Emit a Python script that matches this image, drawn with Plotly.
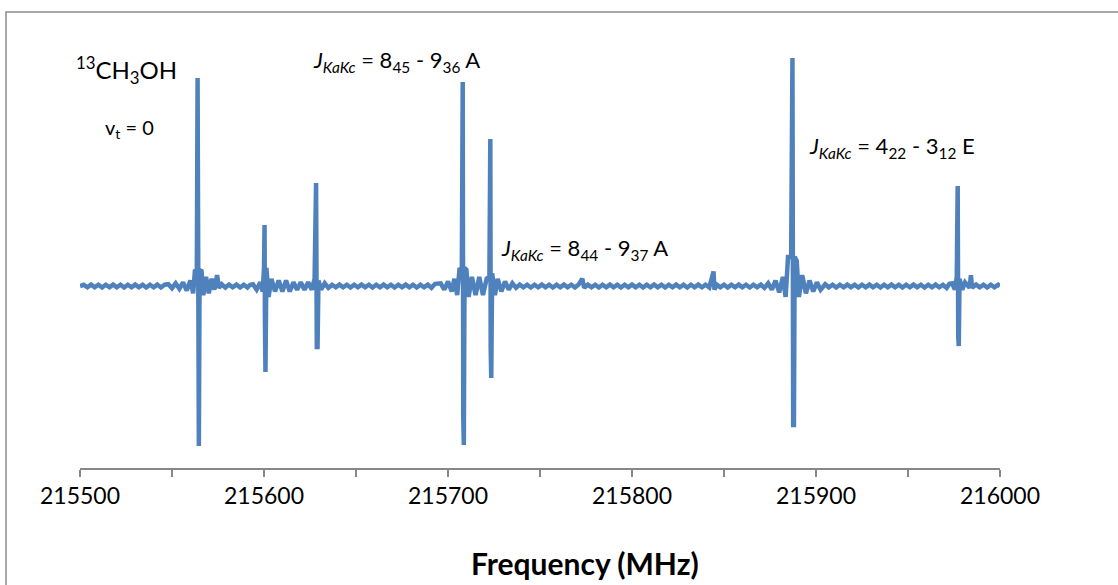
import plotly.graph_objects as go

# Spectrum points: frequency (MHz) and relative intensity
freq = [
    # baseline ripple 215500-215548
    215500, 215502, 215504, 215506, 215508, 215510, 215512, 215514, 215516, 215518,
    215520, 215522, 215524, 215526, 215528, 215530, 215532, 215534, 215536, 215538,
    215540, 215542, 215544, 215546,
    # line near 215564
    215548, 215550, 215552, 215554, 215556, 215558, 215560,
    215561.5, 215562.5, 215563.5, 215563.9, 215564.2, 215564.6, 215565.0, 215566.0, 215567.0, 215568.5,
    215570, 215571.5, 215573, 215574.5, 215575.5, 215577, 215579,
    215581, 215583, 215585, 215587, 215589, 215591, 215592.5,
    # line near 215600
    215594, 215596, 215598, 215599.3, 215600.0, 215600.3, 215600.5, 215600.8, 215601.3, 215602.5, 215604,
    215606, 215608, 215610, 215612, 215614, 215616, 215618, 215620, 215622, 215624,
    # line near 215628
    215626, 215627.5, 215628.3, 215628.7, 215629.1, 215629.6, 215631, 215633, 215635,
    # baseline ripple 215637-215689
    215637, 215639, 215641, 215643, 215645, 215647, 215649, 215651, 215653, 215655,
    215657, 215659, 215661, 215663, 215665, 215667, 215669, 215671, 215673, 215675,
    215677, 215679, 215681, 215683, 215685, 215687, 215689,
    # lines near 215708 and 215723
    215691, 215693, 215696, 215698, 215700, 215702, 215703.5, 215705,
    215706.3, 215707.5, 215708.0, 215708.3, 215708.6, 215709.0, 215710.0, 215711.2, 215713, 215715,
    215717, 215719, 215721, 215722.5, 215723.0, 215723.2, 215723.5, 215724.0, 215725.5, 215727,
    215729, 215731, 215733, 215735, 215737,
    # baseline ripple with small feature near 215773
    215739, 215741, 215743, 215745, 215747, 215749, 215751, 215753, 215755, 215757,
    215759, 215761, 215763, 215765, 215767, 215769, 215771, 215773, 215774, 215776,
    215778, 215780, 215782, 215784, 215786, 215788, 215790, 215792, 215794, 215796,
    215798, 215800, 215802, 215804, 215806, 215808, 215810, 215812, 215814, 215816,
    215818, 215820, 215822, 215824, 215826, 215828, 215830, 215832, 215834, 215836,
    215838, 215840, 215842,
    # small feature near 215844
    215844.3, 215844.8, 215846, 215848, 215850, 215852, 215854, 215856, 215858, 215860,
    215862, 215864, 215866, 215868, 215870, 215872,
    # line near 215887
    215874, 215876, 215878, 215880,
    215882, 215883.5, 215884.8, 215886.5, 215887.2, 215887.6, 215888.0, 215888.4, 215889.5, 215890.7,
    215892.5, 215894.5, 215896.5, 215898.5, 215900.5, 215902.5,
    # baseline ripple 215905-215969
    215905, 215907, 215909, 215911, 215913, 215915, 215917, 215919, 215921, 215923,
    215925, 215927, 215929, 215931, 215933, 215935, 215937, 215939, 215941, 215943,
    215945, 215947, 215949, 215951, 215953, 215955, 215957, 215959, 215961, 215963,
    215965, 215967, 215969,
    # line near 215977
    215971, 215972.5, 215974, 215975.5, 215976.5, 215977.0, 215977.3, 215977.6, 215978.0, 215979.5, 215981,
    215983.5, 215984.2, 215984.8, 215987, 215989, 215991, 215993, 215995, 215997, 215999, 216000,
]
intensity = [
    0.000, 0.007, -0.007, 0.008, -0.007, 0.007, -0.008, 0.007, -0.007, 0.008,
    -0.007, 0.007, -0.008, 0.007, -0.007, 0.008, -0.007, 0.007, -0.008, 0.007,
    -0.007, 0.008, -0.008, 0.007,
    0.010, -0.012, 0.015, -0.015, 0.020, -0.025, 0.030,
    -0.040, 0.090, 0.080, 1.143, -0.879, -0.879, 0.080, 0.090, -0.050, 0.050,
    -0.040, 0.040, -0.020, 0.060, -0.010, 0.010, -0.008,
    0.008, -0.007, 0.008, -0.008, 0.007, -0.008, 0.007,
    0.010, -0.020, 0.020, -0.030, 0.100, 0.335, -0.170, -0.473, 0.100, -0.060, 0.040,
    -0.030, 0.030, -0.030, 0.030, -0.030, 0.020, -0.020, 0.020, -0.020, 0.020,
    -0.020, 0.040, 0.566, -0.335, -0.335, 0.030, -0.020, 0.015, -0.010,
    0.007, -0.007, 0.008, -0.007, 0.007, -0.008, 0.007, -0.007, 0.008, -0.007,
    0.007, -0.008, 0.007, -0.007, 0.008, -0.007, 0.007, -0.008, 0.007, -0.007,
    0.008, -0.007, 0.007, -0.008, 0.007, -0.007, 0.008,
    -0.010, 0.012, 0.015, -0.020, 0.025, -0.030, 0.040, -0.050,
    0.100, 0.080, 1.121, -0.725, -0.874, 0.100, 0.090, -0.060, 0.050, -0.050,
    0.050, -0.050, 0.040, 0.050, 0.808, -0.340, -0.505, 0.070, -0.050, 0.040,
    -0.030, 0.025, -0.020, 0.015, -0.010,
    0.008, -0.007, 0.007, -0.008, 0.007, -0.007, 0.008, -0.007, 0.007, -0.008,
    0.007, -0.007, 0.008, -0.007, 0.007, -0.008, 0.008, 0.040, -0.010, 0.008,
    -0.007, 0.007, -0.008, 0.007, -0.007, 0.008, -0.007, 0.007, -0.008, 0.007,
    -0.007, 0.008, -0.007, 0.007, -0.008, 0.007, -0.007, 0.008, -0.007, 0.007,
    -0.008, 0.007, -0.007, 0.008, -0.007, 0.007, -0.008, 0.007, -0.007, 0.008,
    -0.007, 0.007, -0.008,
    0.080, -0.020, 0.008, -0.007, 0.007, -0.008, 0.007, -0.007, 0.008, -0.007,
    0.007, -0.008, 0.007, -0.007, 0.008, -0.010,
    0.015, -0.020, 0.030, -0.035,
    0.050, -0.060, 0.160, 0.160, 1.253, -0.764, -0.764, 0.160, 0.140, -0.060,
    0.060, -0.040, 0.030, -0.030, 0.020, -0.020,
    0.010, -0.007, 0.007, -0.008, 0.007, -0.007, 0.008, -0.007, 0.007, -0.008,
    0.007, -0.007, 0.008, -0.007, 0.007, -0.008, 0.007, -0.007, 0.008, -0.007,
    0.007, -0.008, 0.007, -0.007, 0.008, -0.007, 0.007, -0.008, 0.007, -0.007,
    0.008, -0.007, 0.007,
    -0.010, 0.012, 0.015, -0.020, 0.050, 0.549, -0.280, -0.330, 0.040, -0.020, 0.020,
    -0.010, 0.060, -0.010, 0.008, -0.007, 0.007, -0.008, 0.007, -0.007, 0.007, 0.000,
]

tick_vals = [215500, 215600, 215700, 215800, 215900, 216000]
tick_text = ["215500", "215600", "215700", "215800", "215900", "216000"]
minor_tick_vals = [215550, 215650, 215750, 215850, 215950]

FONT = "Lato, 'Open Sans', sans-serif"
W, H = 1118, 585
L, R, T, B = 80, 118, 30, 117
PW, PH = W - L - R, H - T - B


def px(x):
    return (x - L) / PW


def py(y):
    return (H - B - y) / PH


fig = go.Figure()
fig.add_trace(go.Scatter(
    x=freq, y=intensity, mode="lines",
    line=dict(color="#4F81BD", width=4.5),
    hoverinfo="skip", showlegend=False,
))

fig.update_layout(
    width=W, height=H,
    margin=dict(l=L, r=R, t=T, b=B),
    paper_bgcolor="white", plot_bgcolor="white",
    font=dict(family=FONT, color="#000000"),
    xaxis=dict(
        range=[215500, 216000], showgrid=False, zeroline=False,
        showline=True, linecolor="#878787", linewidth=1.5,
        ticks="outside", ticklen=7, tickcolor="#878787", tickwidth=1.5,
        tickvals=tick_vals, ticktext=tick_text,
        tickfont=dict(size=23, family=FONT, color="#000000"),
        minor=dict(tickvals=minor_tick_vals,
                   ticks="outside", ticklen=7, tickcolor="#878787", tickwidth=1.5),
    ),
    yaxis=dict(range=[-1.0, 1.407], visible=False),
)

annotations = [
    dict(text="<sup>13</sup>CH<sub>3</sub>OH", x=px(74), y=py(70), size=24),
    dict(text="v<sub>t</sub> = 0", x=px(103), y=py(128), size=20),
    dict(text="<i>J</i><sub><i>KaKc</i></sub> = 8<sub>45</sub> - 9<sub>36</sub> A", x=px(311), y=py(61), size=22),
    dict(text="<i>J</i><sub><i>KaKc</i></sub> = 8<sub>44</sub> - 9<sub>37</sub> A", x=px(499), y=py(249), size=22),
    dict(text="<i>J</i><sub><i>KaKc</i></sub> = 4<sub>22</sub> - 3<sub>12</sub> E", x=px(807), y=py(147), size=22),
]
for a in annotations:
    fig.add_annotation(
        text=a["text"], x=a["x"], y=a["y"], xref="paper", yref="paper",
        xanchor="left", yanchor="middle", showarrow=False,
        font=dict(size=a["size"], family=FONT, color="#000000"),
    )

fig.add_annotation(
    text="<b>Frequency (MHz)</b>", x=px(585), y=py(563), xref="paper", yref="paper",
    xanchor="center", yanchor="middle", showarrow=False,
    font=dict(size=30, family=FONT, color="#000000"),
)

# chart-area border (top and left edges visible in the reference)
fig.add_shape(type="rect", xref="paper", yref="paper",
              x0=px(6), x1=px(1130), y0=py(600), y1=py(12),
              line=dict(color="#8C8C8C", width=1.5), fillcolor="rgba(0,0,0,0)",
              layer="below")

fig.write_html(
    "out.html",
    config={"displayModeBar": False, "staticPlot": True},
    post_script="document.body.style.margin='0';document.body.style.overflow='hidden';",
)
